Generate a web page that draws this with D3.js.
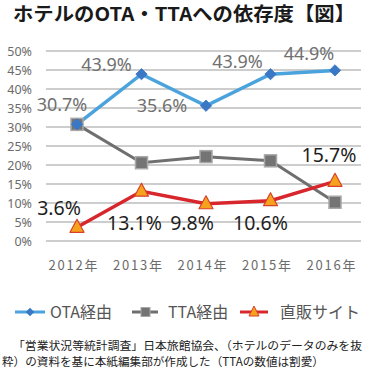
<!DOCTYPE html>
<html>
<head>
<meta charset="utf-8">
<script src="https://cdn.jsdelivr.net/npm/d3@7"></script>
<style>
  body { margin: 0; background: #fff; }
  svg { display: block; font-family: "Noto Sans CJK JP", "Noto Sans", sans-serif; }
</style>
</head>
<body>
<div id="chart"></div>
<script>
// data
const years = ["2012年", "2013年", "2014年", "2015年", "2016年"];
const ota = [30.7, 43.9, 35.6, 43.9, 44.9];
const tta = [30.7, 20.6, 22.2, 21.1, 10.2];
const direct = [3.6, 13.1, 9.8, 10.6, 15.7];
const yTicks = [0, 5, 10, 15, 20, 25, 30, 35, 40, 45, 50];
const seriesNames = ["OTA経由", "TTA経由", "直販サイト"];

const title = "ホテルのOTA・TTAへの依存度【図】";
const note1 = "「営業状況等統計調査」日本旅館協会、（ホテルのデータのみを抜";
const note2 = "粋）の資料を基に本紙編集部が作成した（TTAの数値は割愛）";

const width = 380, height = 374;

const svg = d3.select("#chart").append("svg")
  .attr("width", width)
  .attr("height", height);

// title
svg.append("text")
  .attr("x", 13).attr("y", 21)
  .attr("font-size", 19).attr("font-weight", "bold")
  .attr("fill", "#1a1a1a")
  .attr("textLength", 342).attr("lengthAdjust", "spacingAndGlyphs")
  .text(title);

// scales
const x = d3.scalePoint().domain(years).range([77, 335]);
const y = d3.scaleLinear().domain([0, 50]).range([241, 51]);

// grid lines
svg.append("g").selectAll("line")
  .data(yTicks)
  .join("line")
  .attr("x1", 46).attr("x2", 361)
  .attr("y1", d => y(d)).attr("y2", d => y(d))
  .attr("stroke", "#bdbdbd").attr("stroke-width", 1.5);

// y labels
svg.append("g").selectAll("text")
  .data(yTicks)
  .join("text")
  .attr("x", 32).attr("y", d => y(d) + 4.5)
  .attr("text-anchor", "end")
  .attr("font-size", 12.5).attr("fill", "#6b6b6b")
  .attr("font-family", "Noto Sans")
  .text(d => d + "%");

// x labels
svg.append("g").selectAll("text")
  .data(years)
  .join("text")
  .attr("x", d => x(d) - 3).attr("y", 270)
  .attr("text-anchor", "middle")
  .attr("font-size", 13).attr("fill", "#6b6b6b")
  .attr("letter-spacing", 1.8)
  .text(d => d);

const line = d3.line()
  .x((d, i) => x(years[i]))
  .y(d => y(d));

// TTA
svg.append("path").datum(tta)
  .attr("d", line).attr("fill", "none")
  .attr("stroke", "#6f6f6f").attr("stroke-width", 3);
// OTA
svg.append("path").datum(ota)
  .attr("d", line).attr("fill", "none")
  .attr("stroke", "#4ba3dd").attr("stroke-width", 3.5);
// direct
svg.append("path").datum(direct)
  .attr("d", line).attr("fill", "none")
  .attr("stroke", "#d8262d").attr("stroke-width", 3.5);

// markers
svg.append("g").selectAll("rect")
  .data(tta)
  .join("rect")
  .attr("x", (d, i) => x(years[i]) - 6).attr("y", d => y(d) - 6)
  .attr("width", 12).attr("height", 12)
  .attr("fill", "#747474").attr("stroke", "#a8a8a8").attr("stroke-width", 1.5);

svg.append("g").selectAll("path")
  .data(ota)
  .join("path")
  .attr("transform", (d, i) => `translate(${x(years[i])},${y(d)}) rotate(45)`)
  .attr("d", "M-4,-4H4V4H-4Z")
  .attr("fill", "#3a78c6").attr("stroke", "#3a78c6").attr("stroke-width", 0.8);

svg.append("g").selectAll("path")
  .data(direct)
  .join("path")
  .attr("transform", (d, i) => `translate(${x(years[i])},${y(d)})`)
  .attr("d", "M0,-8L7,5H-7Z")
  .attr("fill", "#f7a21d").attr("stroke", "#d8402a").attr("stroke-width", 1.2)
  .attr("stroke-linejoin", "round");

// value labels
const otaOff = [[-15, -20], [-35, -10], [-44, 0], [-33, -13], [-26, -17]];
const dirOff = [[-18, -19], [-7, 32], [-14, 19], [-10, 22], [-6, -26]];

svg.append("g").selectAll("text")
  .data(ota)
  .join("text")
  .attr("x", (d, i) => x(years[i]) + otaOff[i][0])
  .attr("y", (d, i) => y(d) + otaOff[i][1] + 6.5)
  .attr("text-anchor", "middle")
  .attr("font-family", "Noto Sans")
  .attr("font-size", 18).attr("fill", "#707070")
  .text(d => d.toFixed(1) + "%");

svg.append("g").selectAll("text")
  .data(direct)
  .join("text")
  .attr("x", (d, i) => x(years[i]) + dirOff[i][0])
  .attr("y", (d, i) => y(d) + dirOff[i][1] + 7)
  .attr("text-anchor", "middle")
  .attr("font-family", "Noto Sans")
  .attr("font-size", 19.5).attr("fill", "#1e1e1e")
  .text(d => d.toFixed(1) + "%");

// legend
const legX = [15, 132, 240];
const legTextX = [50, 168, 280];
const legY = 312;
const leg = svg.append("g");

leg.append("line").attr("x1", legX[0]).attr("x2", legX[0] + 30)
  .attr("y1", legY).attr("y2", legY).attr("stroke", "#4ba3dd").attr("stroke-width", 3);
leg.append("path").attr("transform", `translate(${legX[0] + 15},${legY}) rotate(45)`)
  .attr("d", "M-3,-3H3V3H-3Z").attr("fill", "#3a78c6");

leg.append("line").attr("x1", legX[1]).attr("x2", legX[1] + 26)
  .attr("y1", legY).attr("y2", legY).attr("stroke", "#6f6f6f").attr("stroke-width", 3);
leg.append("rect").attr("x", legX[1] + 9).attr("y", legY - 4.5)
  .attr("width", 9).attr("height", 9)
  .attr("fill", "#747474").attr("stroke", "#a8a8a8").attr("stroke-width", 1);

leg.append("line").attr("x1", legX[2]).attr("x2", legX[2] + 28)
  .attr("y1", legY).attr("y2", legY).attr("stroke", "#d8262d").attr("stroke-width", 3);
leg.append("path").attr("transform", `translate(${legX[2] + 14},${legY})`)
  .attr("d", "M0,-6L5,4H-5Z").attr("fill", "#f7a21d").attr("stroke", "#d8402a").attr("stroke-width", 1);

leg.selectAll("text")
  .data(seriesNames)
  .join("text")
  .attr("x", (d, i) => legTextX[i]).attr("y", legY + 6)
  .attr("font-size", 16).attr("fill", "#555")
  .text(d => d);

// source note
svg.append("text")
  .attr("x", 13).attr("y", 350)
  .attr("font-size", 11.6).attr("fill", "#222")
  .attr("textLength", 349).attr("lengthAdjust", "spacingAndGlyphs")
  .text(note1);
svg.append("text")
  .attr("x", 2).attr("y", 366)
  .attr("font-size", 11.6).attr("fill", "#222")
  .text(note2);
</script>
</body>
</html>
